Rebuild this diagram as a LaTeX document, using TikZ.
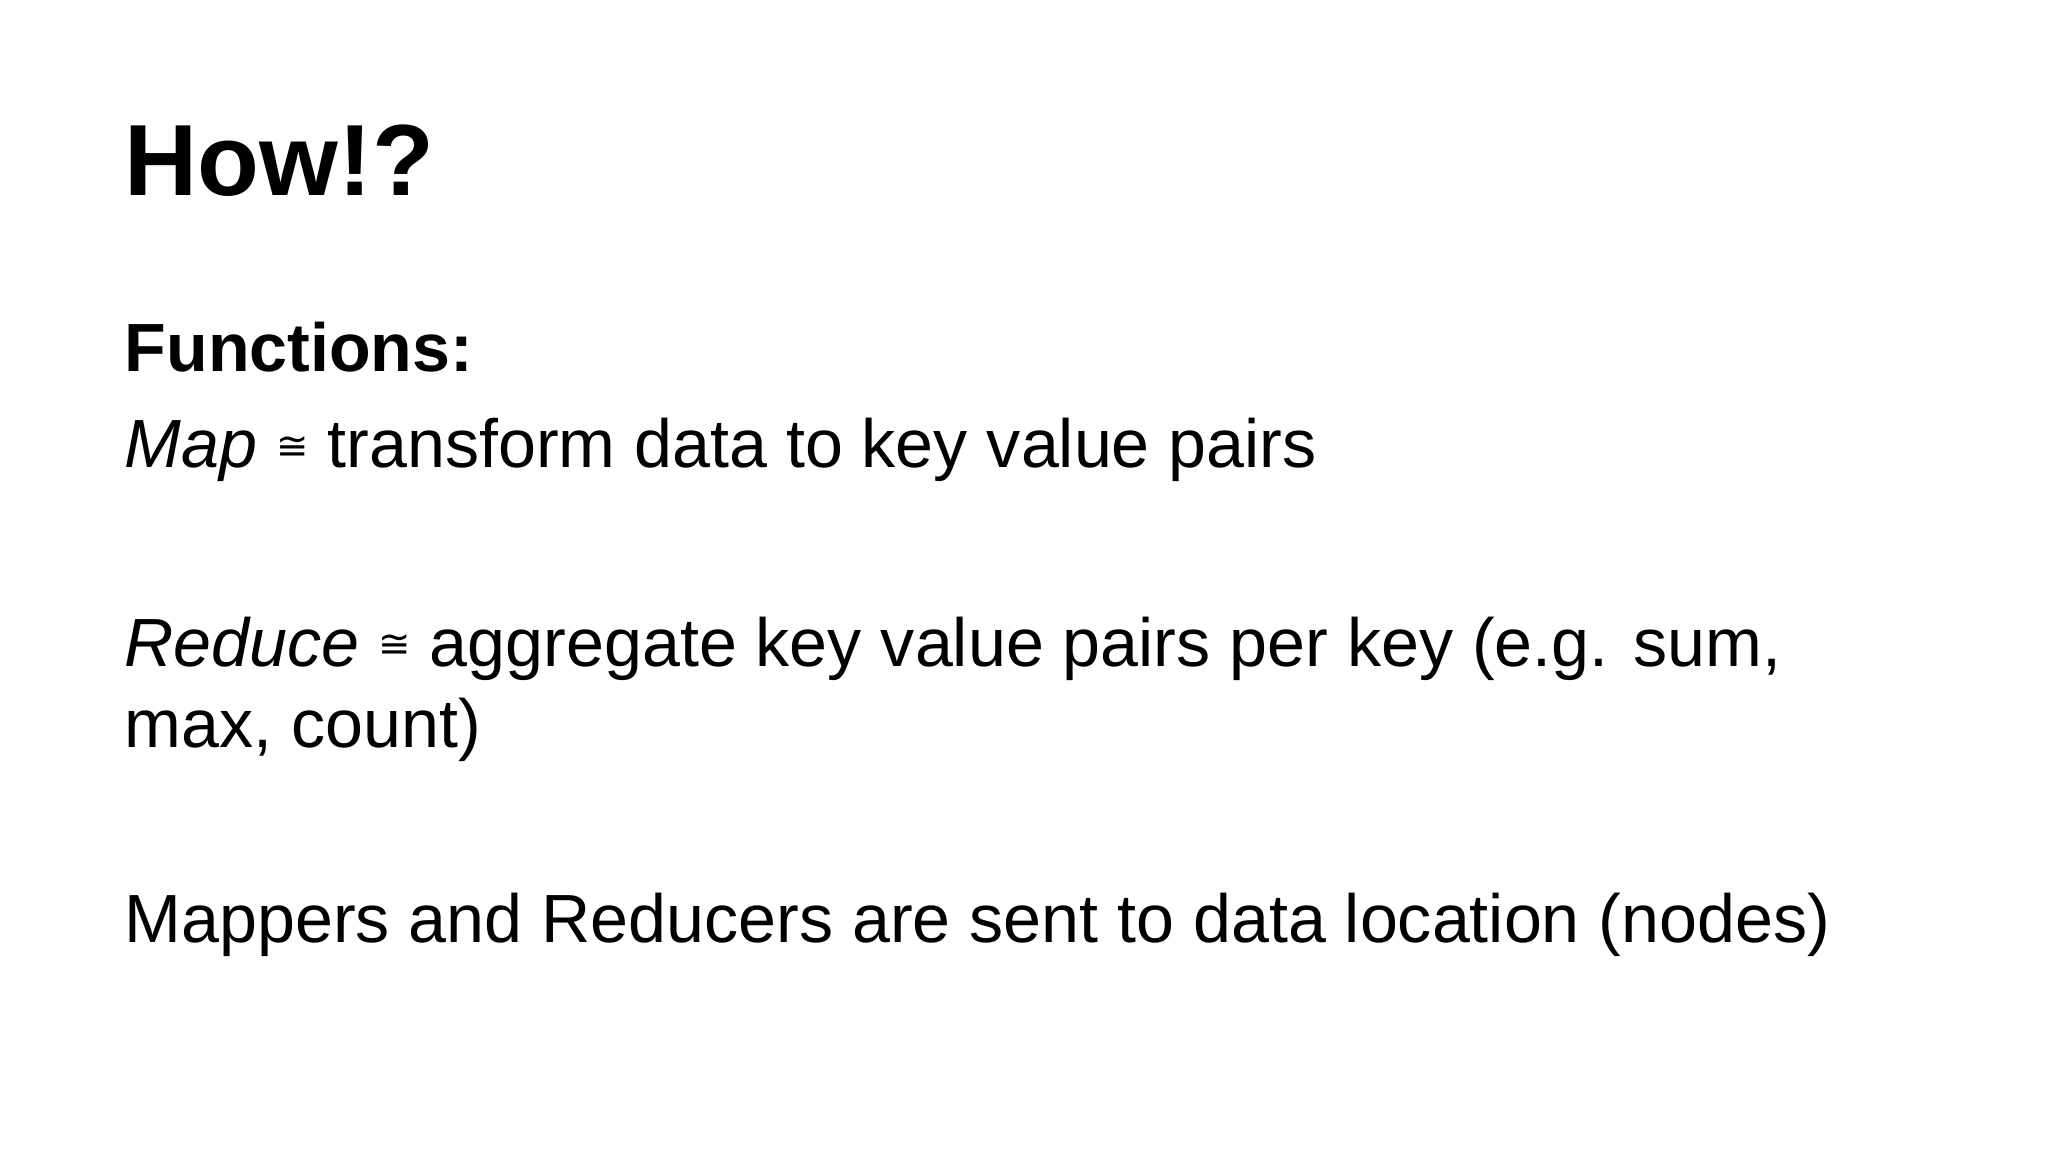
\documentclass[tikz,border=0pt]{standalone}
\usepackage{fontspec}
\setmainfont{Liberation Sans}
\newfontfamily\symf{DejaVu Sans}
\newcommand{\apx}{\raisebox{0.12em}{\symf\fontsize{11pt}{13pt}\selectfont ≅}}
\begin{document}
\begin{tikzpicture}[x=1cm,y=1cm,txt/.style={anchor=base west,inner sep=0pt,font=\fontsize{19.4pt}{24pt}\selectfont}]
\useasboundingbox[fill=white] (0,0) rectangle (20.48,-11.52);
\node[anchor=base west,inner sep=0pt,font=\fontsize{28.8pt}{34pt}\selectfont\bfseries] (title) at (1.24,-1.96) {How!?};
\node[txt,font=\fontsize{19.4pt}{24pt}\selectfont\bfseries] (fn) at (1.24,-3.72) {Functions:};
\node[txt] (map) at (1.24,-4.68) {\textit{Map} \apx{} transform data to key value pairs};
\node[txt] (red) at (1.24,-6.66) {\textit{Reduce} \apx{} aggregate key value pairs per key (e.g. sum,};
\node[txt] (red2) at (1.24,-7.47) {max, count)};
\node[txt] (mr) at (1.24,-9.43) {Mappers and Reducers are sent to data location (nodes)};
\end{tikzpicture}
\end{document}
